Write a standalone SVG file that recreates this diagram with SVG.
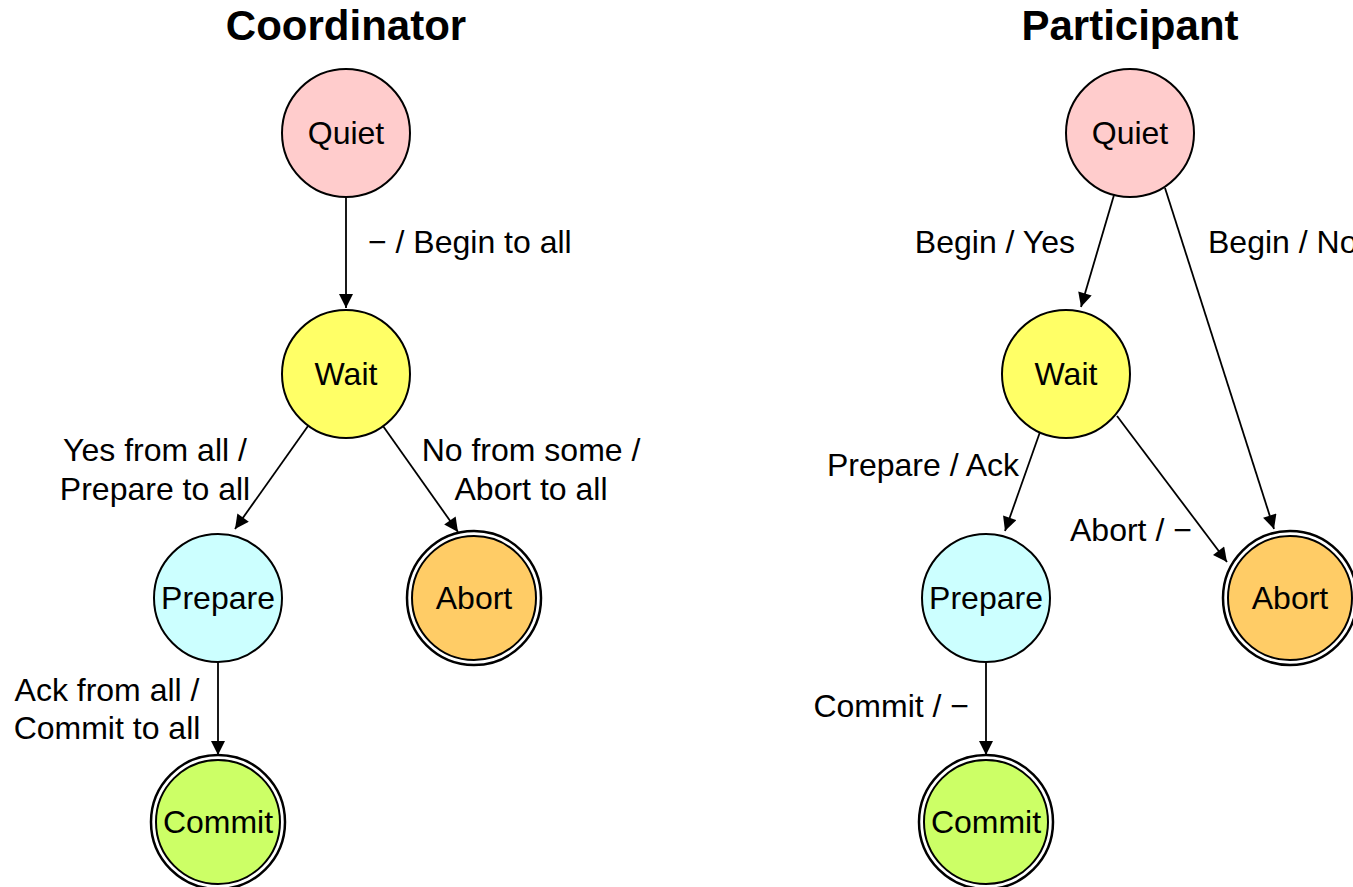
<svg xmlns="http://www.w3.org/2000/svg" width="1353" height="887" viewBox="0 0 1353 887">
  <style>
    text { font-family: "Liberation Sans", Arial, sans-serif; fill: #000; }
    .title { font-size: 42px; font-weight: bold; text-anchor: middle; }
    .name { font-size: 32px; text-anchor: middle; dominant-baseline: central; }
    .lbl { font-size: 32px; }
    .mid { text-anchor: middle; }
    .end { text-anchor: end; }
    .st { stroke: #000; stroke-width: 2; }
    .ring { fill: #fff; stroke: #000; stroke-width: 2.5; }
    .quiet { fill: #ffcccc; }
    .wait { fill: #ffff66; }
    .prep { fill: #ccffff; }
    .abort { fill: #ffcc66; }
    .commit { fill: #ccff66; }
    .edge { stroke: #000; stroke-width: 1.8; fill: none; marker-end: url(#arrow); }
  </style>
  <defs>
    <marker id="arrow" viewBox="0 0 10 10" refX="10" refY="5" markerWidth="16" markerHeight="14" markerUnits="userSpaceOnUse" orient="auto">
      <path d="M0,0 L10,5 L0,10 z" fill="#000"/>
    </marker>
  </defs>
  <rect width="1353" height="887" fill="#fff"/>

  <text class="title" x="346" y="40">Coordinator</text>
  <text class="title" x="1130" y="40">Participant</text>

  <!-- coordinator state machine -->
  <g id="c-quiet"><circle class="st quiet" cx="346" cy="133" r="64"/><text class="name" x="346" y="133">Quiet</text></g>
  <g id="c-wait"><circle class="st wait" cx="346" cy="374" r="64"/><text class="name" x="346" y="374">Wait</text></g>
  <g id="c-prepare"><circle class="st prep" cx="218" cy="598" r="64"/><text class="name" x="218" y="598">Prepare</text></g>
  <g id="c-abort"><circle class="ring" cx="474" cy="598" r="67"/><circle class="st abort" cx="474" cy="598" r="62"/><text class="name" x="474" y="598">Abort</text></g>
  <g id="c-commit"><circle class="ring" cx="218" cy="822" r="67"/><circle class="st commit" cx="218" cy="822" r="62"/><text class="name" x="218" y="822">Commit</text></g>

  <!-- participant state machine -->
  <g id="p-quiet"><circle class="st quiet" cx="1130" cy="133" r="64"/><text class="name" x="1130" y="133">Quiet</text></g>
  <g id="p-wait"><circle class="st wait" cx="1066" cy="374" r="64"/><text class="name" x="1066" y="374">Wait</text></g>
  <g id="p-prepare"><circle class="st prep" cx="986" cy="598" r="64"/><text class="name" x="986" y="598">Prepare</text></g>
  <g id="p-abort"><circle class="ring" cx="1290" cy="598" r="67"/><circle class="st abort" cx="1290" cy="598" r="62"/><text class="name" x="1290" y="598">Abort</text></g>
  <g id="p-commit"><circle class="ring" cx="986" cy="822" r="67"/><circle class="st commit" cx="986" cy="822" r="62"/><text class="name" x="986" y="822">Commit</text></g>

  <g id="connectors">
    <line class="edge" x1="346" y1="197" x2="346" y2="308"/>
    <line class="edge" x1="308" y1="426" x2="235" y2="529"/>
    <line class="edge" x1="383" y1="426" x2="458" y2="532"/>
    <line class="edge" x1="218" y1="662" x2="218" y2="755"/>

    <line class="edge" x1="1114" y1="195" x2="1081" y2="307"/>
    <line class="edge" x1="1165" y1="188" x2="1274" y2="529"/>
    <line class="edge" x1="1040" y1="432" x2="1005" y2="531"/>
    <line class="edge" x1="1117" y1="416" x2="1227" y2="562"/>
    <line class="edge" x1="986" y1="662" x2="986" y2="755"/>
  </g>

  <g id="labels">
    <text class="lbl" x="368" y="253">− / Begin to all</text>
    <text class="lbl mid" x="155" y="461">Yes from all /</text>
    <text class="lbl mid" x="155" y="500">Prepare to all</text>
    <text class="lbl mid" x="531" y="461">No from some /</text>
    <text class="lbl mid" x="531" y="500">Abort to all</text>
    <text class="lbl mid" x="107" y="701">Ack from all /</text>
    <text class="lbl mid" x="107" y="739">Commit to all</text>

    <text class="lbl end" x="1075" y="253">Begin / Yes</text>
    <text class="lbl" x="1208" y="253">Begin / No</text>
    <text class="lbl end" x="1019" y="476">Prepare / Ack</text>
    <text class="lbl" x="1070" y="541">Abort / −</text>
    <text class="lbl end" x="969" y="717">Commit / −</text>
  </g>
</svg>
